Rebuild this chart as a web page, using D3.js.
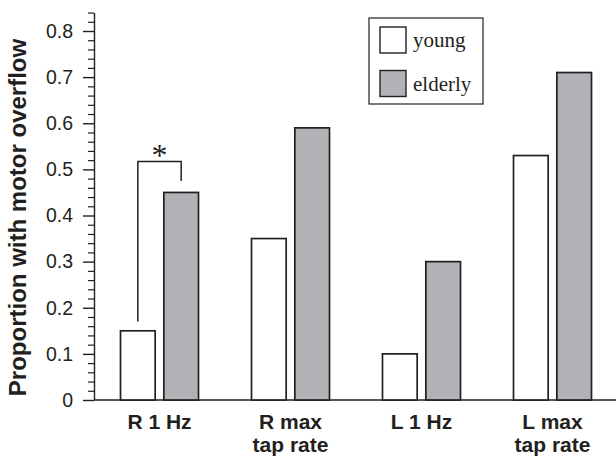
<!DOCTYPE html>
<html>
<head>
<meta charset="utf-8">
<script src="https://cdn.jsdelivr.net/npm/d3@7"></script>
<style>
  body { margin: 0; background: #fff; }
  svg { display: block; }
</style>
</head>
<body>
<div id="chart-area"></div>
<script>
// data
var categories = ["R 1 Hz", "R max\ntap rate", "L 1 Hz", "L max\ntap rate"];
var groups = ["young", "elderly"];
var young = [0.15, 0.35, 0.10, 0.53];
var elderly = [0.45, 0.59, 0.30, 0.71];
var majorTicks = [0, 0.1, 0.2, 0.3, 0.4, 0.5, 0.6, 0.7, 0.8];
// significance bracket on R 1 Hz: left leg bottom, top, right leg bottom
var sigBracket = [0.17, 0.517, 0.475];

var width = 616, height = 460;
var ink = "#231f20";
var colors = { young: "#ffffff", elderly: "#b1b2b6" };

var svg = d3.select("#chart-area")
    .append("svg")
        .attr("width", width)
        .attr("height", height);

var y = d3.scaleLinear()
    .domain([0, 0.84])
    .range([400, 400 - 0.84 * 461.25]);

var x0 = d3.scaleBand()
    .domain(categories)
    .range([94, 618])
    .padding(0);

var x1 = d3.scaleBand()
    .domain(groups)
    .range([0, 78])
    .paddingInner(0.2);

var groupOffset = (x0.bandwidth() - 78) / 2;

var rows = categories.map(function(c, i) {
    return { cat: c, values: [
        { key: "young", value: young[i] },
        { key: "elderly", value: elderly[i] }
    ]};
});

// minor ticks
var minorTicks = d3.range(0, 0.8401, 0.02).filter(function(v) {
    return Math.abs(v * 10 - Math.round(v * 10)) > 0.01;
});

svg.append("g")
    .attr("transform", "translate(94,0)")
    .call(d3.axisLeft(y).tickValues(minorTicks).tickSize(6).tickSizeOuter(0).tickFormat(""))
    .call(function(g) {
        g.select(".domain").attr("stroke", ink).attr("stroke-width", 1.4);
        g.selectAll(".tick line").attr("stroke", ink).attr("stroke-width", 1.2);
    });

svg.append("g")
    .attr("class", "y-axis")
    .attr("transform", "translate(94,0)")
    .call(d3.axisLeft(y).tickValues(majorTicks).tickSize(11).tickSizeOuter(0).tickPadding(10)
        .tickFormat(function(d) { return d === 0 ? "0" : d3.format(".1f")(d); }))
    .call(function(g) {
        g.select(".domain").remove();
        g.selectAll(".tick line").attr("stroke", ink).attr("stroke-width", 1.4);
        g.selectAll(".tick text")
            .attr("fill", ink)
            .attr("font-family", "Liberation Sans, Arial, sans-serif")
            .attr("font-size", "19.5px");
    });

// baseline
svg.append("line")
    .attr("x1", 94)
    .attr("x2", width)
    .attr("y1", y(0))
    .attr("y2", y(0))
    .attr("stroke", ink)
    .attr("stroke-width", 1.4);

// bars
var groupG = svg.selectAll(".group")
    .data(rows)
    .enter()
    .append("g")
        .attr("class", "group")
        .attr("transform", function(d) {
            return "translate(" + (x0(d.cat) + groupOffset) + ",0)";
        });

groupG.selectAll("rect")
    .data(function(d) { return d.values; })
    .enter()
    .append("rect")
        .attr("x", function(d) { return x1(d.key); })
        .attr("y", function(d) { return y(d.value); })
        .attr("width", x1.bandwidth())
        .attr("height", function(d) { return y(0) - y(d.value); })
        .attr("fill", function(d) { return colors[d.key]; })
        .attr("stroke", ink)
        .attr("stroke-width", 1.7);

// category labels
svg.append("g")
    .attr("class", "x-axis")
    .attr("transform", "translate(0," + y(0) + ")")
    .call(d3.axisBottom(x0).tickSize(0).tickFormat(""))
    .call(function(g) {
        g.select(".domain").remove();
        g.selectAll(".tick").each(function(d) {
            var t = d3.select(this).append("text")
                .attr("fill", ink)
                .attr("font-family", "Liberation Sans, Arial, sans-serif")
                .attr("font-weight", "bold")
                .attr("font-size", "21px")
                .attr("text-anchor", "middle")
                .attr("y", 29);
            d.split("\n").forEach(function(line, i) {
                t.append("tspan")
                    .attr("x", 0)
                    .attr("dy", i === 0 ? 0 : 23)
                    .text(line);
            });
        });
    });

// y title
svg.append("text")
    .attr("class", "y-axis lable")
    .attr("x", -217.5)
    .attr("y", 26)
    .attr("font-family", "Liberation Sans, Arial, sans-serif")
    .attr("font-weight", "bold")
    .attr("font-size", "24px")
    .attr("fill", ink)
    .attr("text-anchor", "middle")
    .attr("transform", "rotate(-90)")
    .text("Proportion with motor overflow");

// significance bracket
var bx0 = x0(categories[0]) + groupOffset;
var leftX = bx0 + x1("young") + x1.bandwidth() / 2,
    rightX = bx0 + x1("elderly") + x1.bandwidth() / 2;

svg.append("path")
    .attr("d", "M" + leftX + "," + y(sigBracket[0]) +
        "V" + y(sigBracket[1]) +
        "H" + rightX +
        "V" + y(sigBracket[2]))
    .attr("fill", "none")
    .attr("stroke", ink)
    .attr("stroke-width", 1.5);

svg.append("text")
    .attr("x", (leftX + rightX) / 2)
    .attr("y", y(sigBracket[1]) + 4)
    .attr("text-anchor", "middle")
    .attr("font-family", "Liberation Serif")
    .attr("font-size", "32px")
    .attr("fill", ink)
    .text("*");

// legend
var legend = svg.append("g").attr("class", "legend");
legend.append("rect")
    .attr("x", 369)
    .attr("y", 18)
    .attr("width", 114)
    .attr("height", 86)
    .attr("fill", "#fff")
    .attr("stroke", ink)
    .attr("stroke-width", 1.2);

groups.forEach(function(k, i) {
    legend.append("rect")
        .attr("x", 380)
        .attr("y", 27 + i * 43.5)
        .attr("width", 26)
        .attr("height", 26)
        .attr("fill", colors[k])
        .attr("stroke", ink)
        .attr("stroke-width", 1.4);
    legend.append("text")
        .attr("x", 413)
        .attr("y", 47 + i * 43.5)
        .attr("font-family", "Liberation Serif")
        .attr("font-size", "21px")
        .attr("fill", ink)
        .text(k);
});
</script>
</body>
</html>
